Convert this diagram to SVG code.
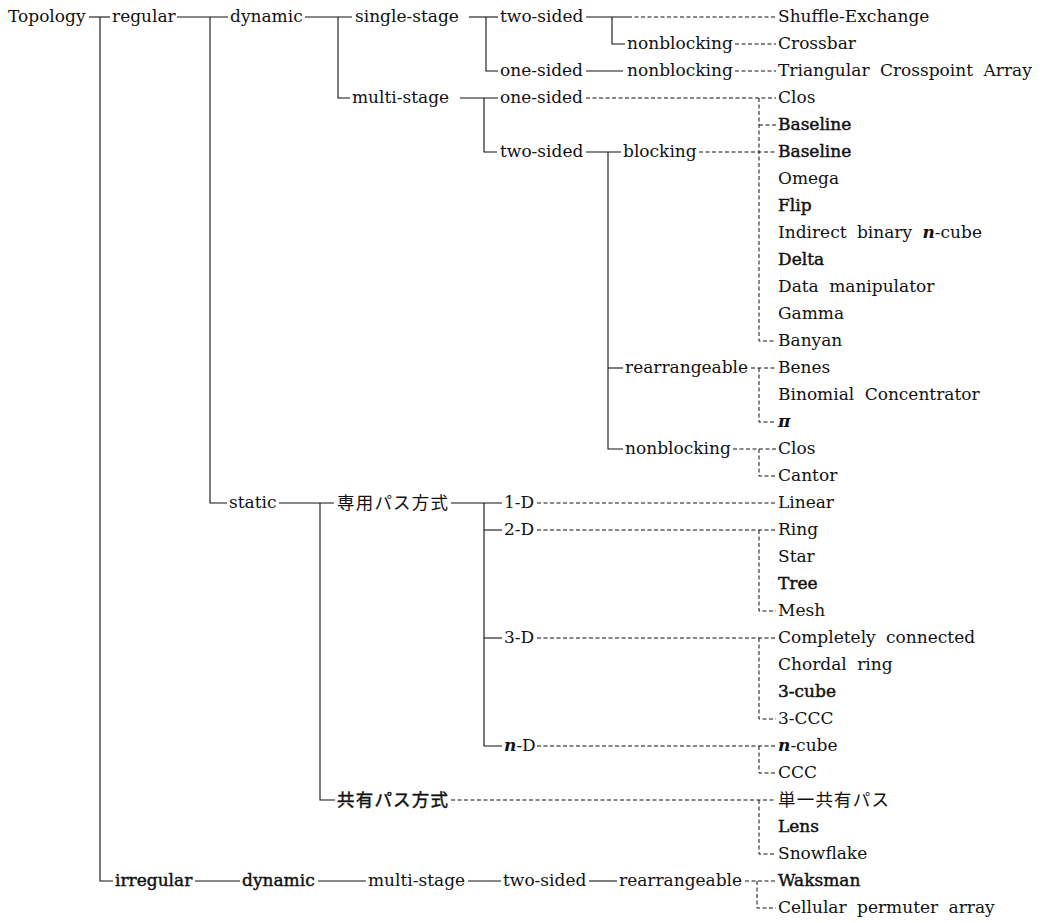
<svg xmlns="http://www.w3.org/2000/svg" width="1053" height="923" viewBox="0 0 1053 923">
<style>
text { font-family: "DejaVu Serif", "Noto Sans CJK JP", serif; font-size: 17px; fill: #111; }
.jp { font-size: 17.5px; letter-spacing: 1.2px; }
.b { stroke: #111; stroke-width: 0.45px; }
.ws { word-spacing: 5px; }
.em { font-style: italic; font-weight: bold; }
.s { stroke: #111; stroke-width: 1.1; fill: none; }
.d { stroke: #111; stroke-width: 1; fill: none; stroke-dasharray: 4 2.5; }
</style>
<rect width="1053" height="923" fill="#fff"/>
<g id="connectors">
  <path class="s" d="M89,17 H110"/>
  <path class="s" d="M100,17 V881 H113"/>
  <path class="s" d="M177,17 H228"/>
  <path class="s" d="M210,17 V503 H227"/>
  <path class="s" d="M305,17 H352"/>
  <path class="s" d="M338,17 V98 H350"/>
  <path class="s" d="M469,17 H498"/>
  <path class="s" d="M486,17 V71 H498"/>
  <path class="s" d="M586,17 H628"/>
  <path class="s" d="M612,17 V44 H625"/>
  <path class="s" d="M586,71 H623"/>
  <path class="s" d="M460,98 H498"/>
  <path class="s" d="M484,98 V152 H497"/>
  <path class="s" d="M586,152 H621"/>
  <path class="s" d="M608,152 V449 H623"/>
  <path class="s" d="M608,368 H623"/>
  <path class="s" d="M279,503 H334"/>
  <path class="s" d="M320,503 V800 H335"/>
  <path class="s" d="M451,503 H502"/>
  <path class="s" d="M484,503 V746 H502"/>
  <path class="s" d="M484,530 H502"/>
  <path class="s" d="M484,638 H502"/>
  <path class="s" d="M195,881 H240"/>
  <path class="s" d="M318,881 H366"/>
  <path class="s" d="M468,881 H501"/>
  <path class="s" d="M589,881 H617"/>
  <path class="d" d="M628,17 H776"/>
  <path class="d" d="M735,44 H776"/>
  <path class="d" d="M735,71 H776"/>
  <path class="d" d="M586,98 H776"/>
  <path class="d" d="M759,98 V341 H776"/>
  <path class="d" d="M759,125 H776"/>
  <path class="d" d="M699,152 H776"/>
  <path class="d" d="M751,368 H776"/>
  <path class="d" d="M759,368 V422 H776"/>
  <path class="d" d="M733,449 H776"/>
  <path class="d" d="M759,449 V476 H776"/>
  <path class="d" d="M537,503 H776"/>
  <path class="d" d="M537,530 H776"/>
  <path class="d" d="M759,530 V611 H776"/>
  <path class="d" d="M537,638 H776"/>
  <path class="d" d="M759,638 V719 H776"/>
  <path class="d" d="M537,746 H776"/>
  <path class="d" d="M759,746 V773 H776"/>
  <path class="d" d="M451,800 H776"/>
  <path class="d" d="M759,800 V854 H776"/>
  <path class="d" d="M745,881 H776"/>
  <path class="d" d="M757,881 V908 H776"/>
</g>
<g id="n-topology"><text x="8" y="22">Topology</text></g>
<g id="n-regular"><text x="112" y="22">regular</text></g>
<g id="n-dynamic"><text x="230" y="22">dynamic</text></g>
<g id="n-single-stage"><text x="355" y="22">single-stage</text></g>
<g id="n-ss-two-sided"><text x="500" y="22">two-sided</text></g>
<g id="n-shuffle"><text x="778" y="22">Shuffle-Exchange</text></g>
<g id="n-ss-nonblocking"><text x="627" y="49">nonblocking</text></g>
<g id="n-crossbar"><text x="778" y="49">Crossbar</text></g>
<g id="n-ss-one-sided"><text x="500" y="76">one-sided</text></g>
<g id="n-ss-os-nonblocking"><text x="627" y="76">nonblocking</text></g>
<g id="n-triangular"><text class="ws" x="778" y="76">Triangular Crosspoint Array</text></g>
<g id="n-multi-stage"><text x="352" y="103">multi-stage</text></g>
<g id="n-ms-one-sided"><text x="500" y="103">one-sided</text></g>
<g id="n-clos1"><text x="778" y="103">Clos</text></g>
<g id="n-baseline1"><text class="b" x="778" y="130">Baseline</text></g>
<g id="n-ms-two-sided"><text x="500" y="157">two-sided</text></g>
<g id="n-blocking"><text x="623" y="157">blocking</text></g>
<g id="n-baseline2"><text class="b" x="778" y="157">Baseline</text></g>
<g id="n-omega"><text x="778" y="184">Omega</text></g>
<g id="n-flip"><text class="b" x="778" y="211">Flip</text></g>
<g id="n-ibnc"><text class="ws" x="778" y="238">Indirect binary <tspan class="em">n</tspan>-cube</text></g>
<g id="n-delta"><text class="b" x="778" y="265">Delta</text></g>
<g id="n-datamanip"><text class="ws" x="778" y="292">Data manipulator</text></g>
<g id="n-gamma"><text x="778" y="319">Gamma</text></g>
<g id="n-banyan"><text x="778" y="346">Banyan</text></g>
<g id="n-rearrangeable"><text x="625" y="373">rearrangeable</text></g>
<g id="n-benes"><text x="778" y="373">Benes</text></g>
<g id="n-binomial"><text class="ws" x="778" y="400">Binomial Concentrator</text></g>
<g id="n-pi"><text class="em" x="778" y="427">π</text></g>
<g id="n-nonblocking"><text x="625" y="454">nonblocking</text></g>
<g id="n-clos2"><text x="778" y="454">Clos</text></g>
<g id="n-cantor"><text x="778" y="481">Cantor</text></g>
<g id="n-static"><text x="229" y="508">static</text></g>
<g id="n-dedicated"><text class="jp" x="337" y="509">専用パス方式</text></g>
<g id="n-1d"><text x="504" y="508">1-D</text></g>
<g id="n-linear"><text x="778" y="508">Linear</text></g>
<g id="n-2d"><text x="504" y="535">2-D</text></g>
<g id="n-ring"><text x="778" y="535">Ring</text></g>
<g id="n-star"><text x="778" y="562">Star</text></g>
<g id="n-tree"><text class="b" x="778" y="589">Tree</text></g>
<g id="n-mesh"><text x="778" y="616">Mesh</text></g>
<g id="n-3d"><text x="504" y="643">3-D</text></g>
<g id="n-complete"><text class="ws" x="778" y="643">Completely connected</text></g>
<g id="n-chordal"><text class="ws" x="778" y="670">Chordal ring</text></g>
<g id="n-3cube"><text class="b" x="778" y="697">3-cube</text></g>
<g id="n-3ccc"><text x="778" y="724">3-CCC</text></g>
<g id="n-nd"><text x="504" y="751"><tspan class="em">n</tspan>-D</text></g>
<g id="n-ncube"><text x="778" y="751"><tspan class="em">n</tspan>-cube</text></g>
<g id="n-ccc"><text x="778" y="778">CCC</text></g>
<g id="n-shared"><text class="jp b" x="337" y="806">共有パス方式</text></g>
<g id="n-single-shared"><text class="jp" x="778" y="806">単一共有パス</text></g>
<g id="n-lens"><text class="b" x="778" y="832">Lens</text></g>
<g id="n-snowflake"><text x="778" y="859">Snowflake</text></g>
<g id="n-irregular"><text class="b" x="115" y="886">irregular</text></g>
<g id="n-ir-dynamic"><text class="b" x="242" y="886">dynamic</text></g>
<g id="n-ir-multi-stage"><text x="368" y="886">multi-stage</text></g>
<g id="n-ir-two-sided"><text x="503" y="886">two-sided</text></g>
<g id="n-ir-rearrangeable"><text x="619" y="886">rearrangeable</text></g>
<g id="n-waksman"><text class="b" x="778" y="886">Waksman</text></g>
<g id="n-cellular"><text class="ws" x="778" y="913">Cellular permuter array</text></g>
</svg>
